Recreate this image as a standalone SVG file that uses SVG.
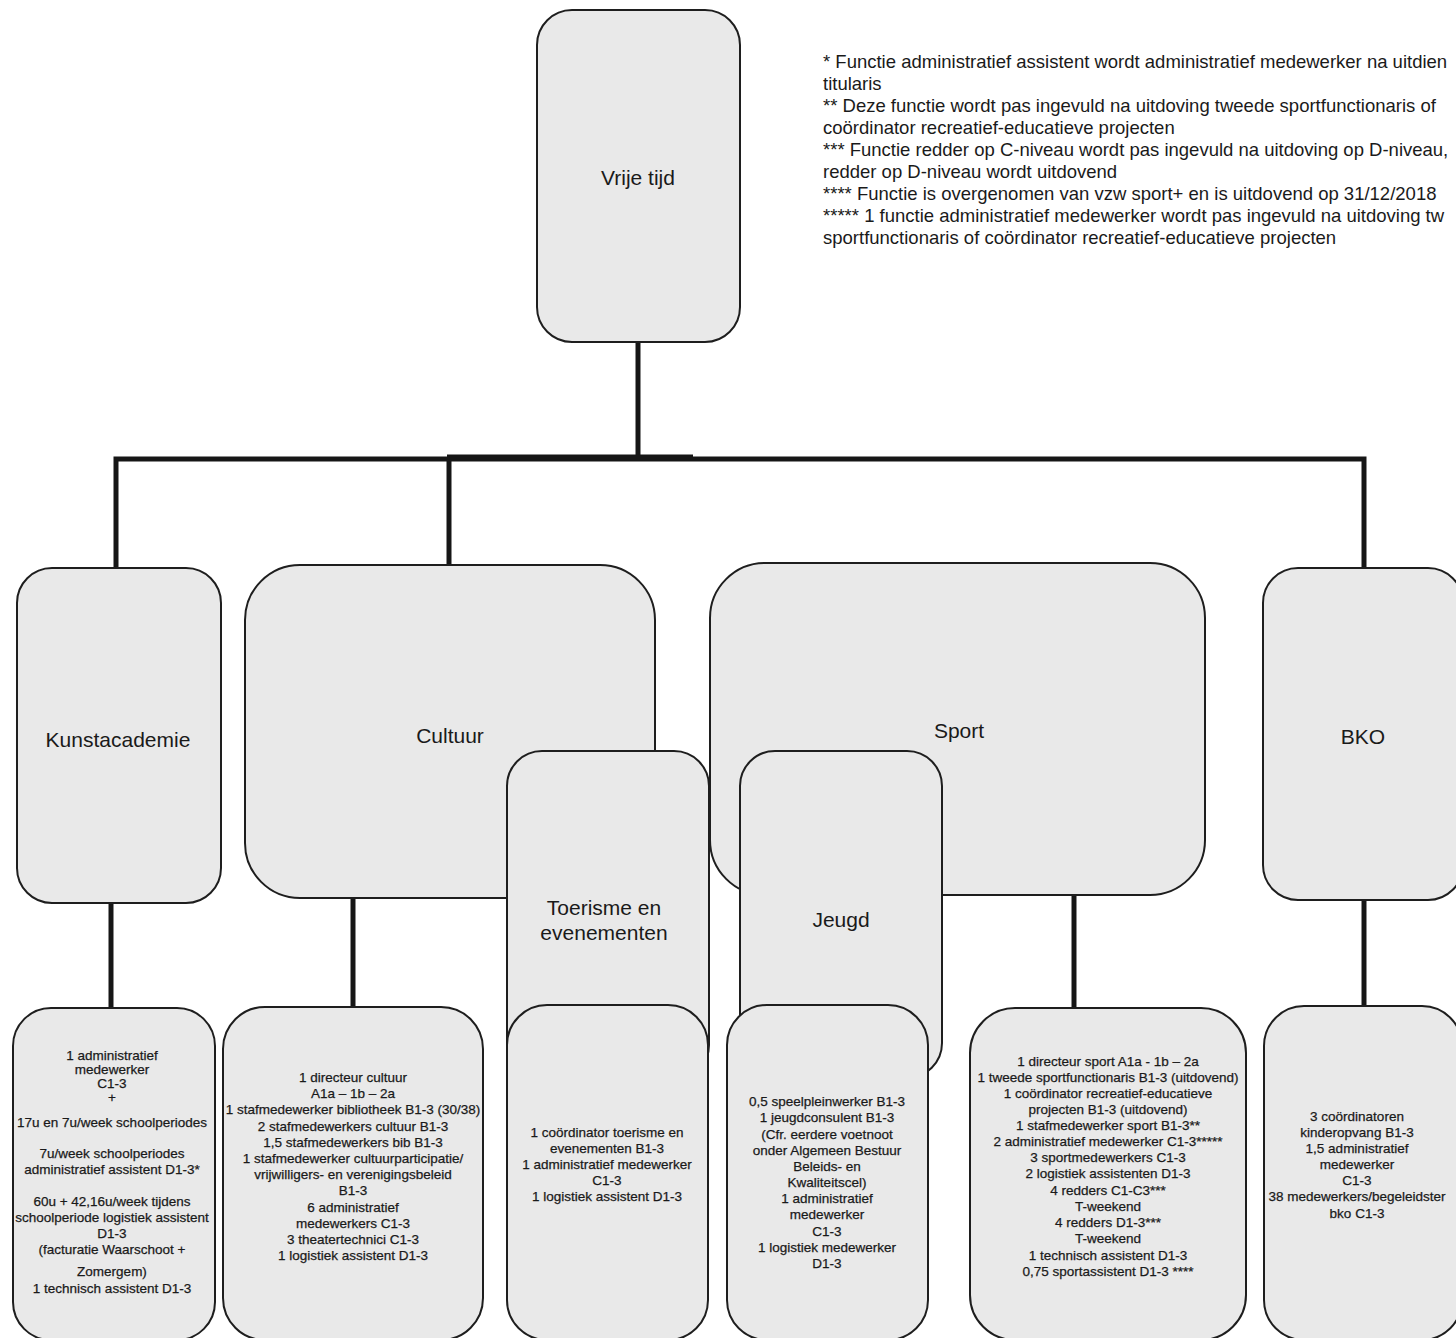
<svg xmlns="http://www.w3.org/2000/svg" width="1456" height="1338" viewBox="0 0 1456 1338">
<style>
.box{fill:#e9e9e9;stroke:#1e1e1e;stroke-width:2}
.conn{stroke:#161616;stroke-width:5;fill:none;stroke-linecap:butt}
text{font-family:"Liberation Sans",Arial,sans-serif;fill:#1a1a1a}
.title{font-size:21px;text-anchor:middle}
.small{font-size:13.5px;text-anchor:middle;stroke:#1a1a1a;stroke-width:0.25}
.note{font-size:18.5px}
</style>
<rect width="1456" height="1338" fill="#ffffff"/>
<g id="connectors">
<path class="conn" d="M638 342 V459"/>
<path class="conn" d="M116 568 V459 H1364 V568"/>
<path class="conn" d="M449 459 V565"/>
<path class="conn" d="M447 457 H693" stroke-width="7"/>
<path class="conn" d="M111 903 V1008"/>
<path class="conn" d="M353 898 V1007"/>
<path class="conn" d="M1074 895 V1008"/>
<path class="conn" d="M1364 900 V1006"/>
</g>
<g id="notes">
<text class="note" x="823" y="68">* Functie administratief assistent wordt administratief medewerker na uitdien</text>
<text class="note" x="823" y="90">titularis</text>
<text class="note" x="823" y="112">** Deze functie wordt pas ingevuld na uitdoving tweede sportfunctionaris of</text>
<text class="note" x="823" y="134">coördinator recreatief-educatieve projecten</text>
<text class="note" x="823" y="156">*** Functie redder op C-niveau wordt pas ingevuld na uitdoving op D-niveau,</text>
<text class="note" x="823" y="178">redder  op D-niveau wordt uitdovend</text>
<text class="note" x="823" y="200">**** Functie is overgenomen van vzw sport+ en is uitdovend op 31/12/2018</text>
<text class="note" x="823" y="222">***** 1 functie administratief medewerker wordt pas ingevuld  na uitdoving tw</text>
<text class="note" x="823" y="244">sportfunctionaris of coördinator  recreatief-educatieve projecten</text>
</g>
<g id="vrije-tijd">
<rect class="box" x="537" y="10" width="203" height="332" rx="35"/>
<text class="title" x="638" y="185">Vrije tijd</text>
</g>
<g id="kunstacademie">
<rect class="box" x="17" y="568" width="204" height="335" rx="35"/>
<text class="title" x="118" y="747">Kunstacademie</text>
</g>
<g id="cultuur">
<rect class="box" x="245" y="565" width="410" height="333" rx="55"/>
<text class="title" x="450" y="743">Cultuur</text>
</g>
<g id="toerisme">
<rect class="box" x="507" y="751" width="202" height="329" rx="35"/>
<text class="title" x="604" y="915">Toerisme en</text>
<text class="title" x="604" y="940">evenementen</text>
</g>
<g id="sport">
<rect class="box" x="710" y="563" width="495" height="332" rx="55"/>
<text class="title" x="959" y="738">Sport</text>
</g>
<g id="jeugd">
<rect class="box" x="740" y="751" width="202" height="327" rx="35"/>
<text class="title" x="841" y="927">Jeugd</text>
</g>
<g id="bko">
<rect class="box" x="1263" y="568" width="200" height="332" rx="35"/>
<text class="title" x="1363" y="744">BKO</text>
</g>
<g id="kunstacademie-staff">
<rect class="box" x="13" y="1008" width="202" height="332" rx="38"/>
<text class="small" x="112" y="1060">1 administratief</text>
<text class="small" x="112" y="1074">medewerker</text>
<text class="small" x="112" y="1088">C1-3</text>
<text class="small" x="112" y="1102">+</text>
<text class="small" x="112" y="1127">17u en 7u/week schoolperiodes</text>
<text class="small" x="112" y="1158">7u/week schoolperiodes</text>
<text class="small" x="112" y="1174">administratief assistent D1-3*</text>
<text class="small" x="112" y="1206">60u + 42,16u/week tijdens</text>
<text class="small" x="112" y="1222">schoolperiode logistiek assistent</text>
<text class="small" x="112" y="1238">D1-3</text>
<text class="small" x="112" y="1254">(facturatie Waarschoot +</text>
<text class="small" x="112" y="1276">Zomergem)</text>
<text class="small" x="112" y="1293">1 technisch assistent D1-3</text>
</g>
<g id="cultuur-staff">
<rect class="box" x="223" y="1007" width="260" height="333" rx="42"/>
<text class="small" x="353" y="1082">1  directeur cultuur</text>
<text class="small" x="353" y="1098">A1a – 1b – 2a</text>
<text class="small" x="353" y="1114">1 stafmedewerker bibliotheek B1-3 (30/38)</text>
<text class="small" x="353" y="1131">2 stafmedewerkers cultuur B1-3</text>
<text class="small" x="353" y="1147">1,5  stafmedewerkers bib B1-3</text>
<text class="small" x="353" y="1163">1 stafmedewerker cultuurparticipatie/</text>
<text class="small" x="353" y="1179">vrijwilligers- en verenigingsbeleid</text>
<text class="small" x="353" y="1195">B1-3</text>
<text class="small" x="353" y="1212">6 administratief</text>
<text class="small" x="353" y="1228">medewerkers  C1-3</text>
<text class="small" x="353" y="1244">3 theatertechnici C1-3</text>
<text class="small" x="353" y="1260">1 logistiek assistent D1-3</text>
</g>
<g id="toerisme-staff">
<rect class="box" x="507" y="1005" width="201" height="335" rx="40"/>
<text class="small" x="607" y="1137">1  coördinator toerisme en</text>
<text class="small" x="607" y="1153">evenementen B1-3</text>
<text class="small" x="607" y="1169">1 administratief medewerker</text>
<text class="small" x="607" y="1185">C1-3</text>
<text class="small" x="607" y="1201">1 logistiek assistent D1-3</text>
</g>
<g id="jeugd-staff">
<rect class="box" x="727" y="1005" width="201" height="335" rx="40"/>
<text class="small" x="827" y="1106">0,5 speelpleinwerker B1-3</text>
<text class="small" x="827" y="1122">1 jeugdconsulent B1-3</text>
<text class="small" x="827" y="1139">(Cfr. eerdere voetnoot</text>
<text class="small" x="827" y="1155">onder Algemeen Bestuur</text>
<text class="small" x="827" y="1171">Beleids- en</text>
<text class="small" x="827" y="1187">Kwaliteitscel)</text>
<text class="small" x="827" y="1203">1 administratief</text>
<text class="small" x="827" y="1219">medewerker</text>
<text class="small" x="827" y="1236">C1-3</text>
<text class="small" x="827" y="1252">1 logistiek medewerker</text>
<text class="small" x="827" y="1268">D1-3</text>
</g>
<g id="sport-staff">
<rect class="box" x="970" y="1008" width="276" height="332" rx="45"/>
<text class="small" x="1108" y="1066">1 directeur sport A1a - 1b – 2a</text>
<text class="small" x="1108" y="1082">1 tweede sportfunctionaris B1-3 (uitdovend)</text>
<text class="small" x="1108" y="1098">1 coördinator recreatief-educatieve</text>
<text class="small" x="1108" y="1114">projecten B1-3  (uitdovend)</text>
<text class="small" x="1108" y="1130">1 stafmedewerker sport B1-3**</text>
<text class="small" x="1108" y="1146">2 administratief medewerker C1-3*****</text>
<text class="small" x="1108" y="1162">3 sportmedewerkers C1-3</text>
<text class="small" x="1108" y="1178">2 logistiek assistenten D1-3</text>
<text class="small" x="1108" y="1195">4  redders C1-C3***</text>
<text class="small" x="1108" y="1211">T-weekend</text>
<text class="small" x="1108" y="1227">4 redders D1-3***</text>
<text class="small" x="1108" y="1243">T-weekend</text>
<text class="small" x="1108" y="1260">1  technisch assistent D1-3</text>
<text class="small" x="1108" y="1276">0,75 sportassistent D1-3 ****</text>
</g>
<g id="bko-staff">
<rect class="box" x="1264" y="1006" width="198" height="334" rx="40"/>
<text class="small" x="1357" y="1121">3 coördinatoren</text>
<text class="small" x="1357" y="1137">kinderopvang B1-3</text>
<text class="small" x="1357" y="1153">1,5 administratief</text>
<text class="small" x="1357" y="1169">medewerker</text>
<text class="small" x="1357" y="1185">C1-3</text>
<text class="small" x="1357" y="1201">38 medewerkers/begeleidster</text>
<text class="small" x="1357" y="1218">bko C1-3</text>
</g>
</svg>
